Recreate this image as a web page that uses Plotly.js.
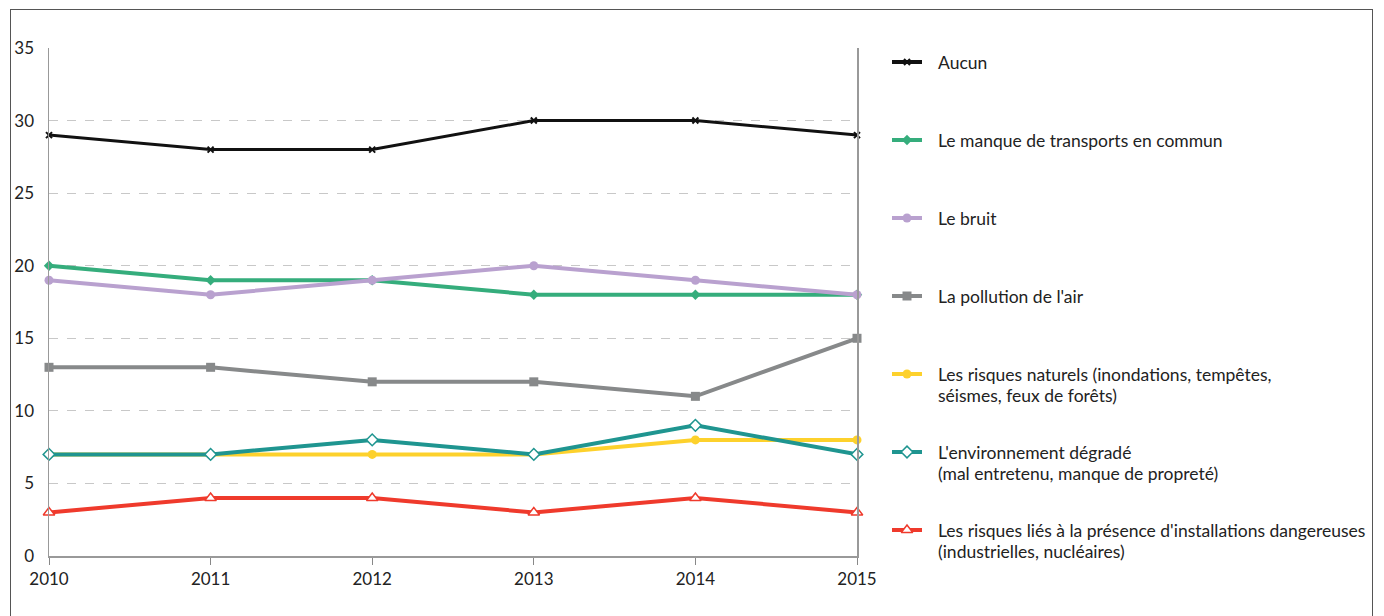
<!DOCTYPE html>
<html>
<head>
<meta charset="utf-8">
<script src="https://cdn.plot.ly/plotly-3.0.1.min.js"></script>
<style>
html,body{margin:0;padding:0;background:#fff;}
#frame{position:absolute;left:10px;top:9px;width:1361px;height:640px;border:1px solid #555;}
#chart{position:absolute;left:0;top:0;width:1384px;height:616px;}
</style>
</head>
<body>
<div id="frame"></div>
<div id="chart"></div>
<script>
const years = [2010, 2011, 2012, 2013, 2014, 2015];
const seriesNames = [
  "Aucun",
  "Le manque de transports en commun",
  "Le bruit",
  "La pollution de l'air",
  "Les risques naturels (inondations, tempêtes,<br>séismes, feux de forêts)",
  "L'environnement dégradé<br>(mal entretenu, manque de propreté)",
  "Les risques liés à la présence d'installations dangereuses<br>(industrielles, nucléaires)"
];
const aucun = [29, 28, 28, 30, 30, 29];
const transports = [20, 19, 19, 18, 18, 18];
const bruit = [19, 18, 19, 20, 19, 18];
const pollution = [13, 13, 12, 12, 11, 15];
const naturels = [7, 7, 7, 7, 8, 8];
const environnement = [7, 7, 8, 7, 9, 7];
const industriels = [3, 4, 4, 3, 4, 3];
const yTicks = [0, 5, 10, 15, 20, 25, 30, 35];

const W = 1384, H = 616;
const plotBox = {left: 49, right: 857, top: 48, bottom: 556};
const legendBox = {keyX0: 892, keyX1: 922, textX: 936, firstY: 62, rowStep: 78, lineStep: 21};

const styles = [
  {color: "#111111", width: 3, symbol: "x-thin-open", size: 6, fill: "#111111", lw: 2},
  {color: "#35ad7c", width: 4, symbol: "diamond", size: 8, fill: "#35ad7c", lw: 0},
  {color: "#b9a1cf", width: 4, symbol: "circle", size: 9, fill: "#b9a1cf", lw: 0},
  {color: "#87898a", width: 4, symbol: "square", size: 9, fill: "#87898a", lw: 0},
  {color: "#fdd12c", width: 4, symbol: "circle", size: 9, fill: "#fdd12c", lw: 0},
  {color: "#1f9590", width: 4, symbol: "diamond", size: 9, fill: "#ffffff", lw: 1.5},
  {color: "#ef3a2c", width: 4, symbol: "triangle-up", size: 10, fill: "#ffffff", lw: 1.5}
];
const values = [aucun, transports, bruit, pollution, naturels, environnement, industriels];

const markerOf = s => ({symbol: s.symbol, size: s.size, color: s.fill, line: {color: s.color, width: s.lw}});

const traces = values.map((v, i) => ({
  x: years, y: v, name: seriesNames[i].replace("<br>", " "),
  type: "scatter", mode: "lines+markers", cliponaxis: false,
  xaxis: "x", yaxis: "y",
  line: {color: styles[i].color, width: styles[i].width},
  marker: markerOf(styles[i])
}));

// legend keys drawn on an overlay pixel-space axis
const annotations = [];
values.forEach((v, i) => {
  const y = legendBox.firstY + legendBox.rowStep * i;
  traces.push({
    x: [legendBox.keyX0, legendBox.keyX1], y: [y, y],
    type: "scatter", mode: "lines", xaxis: "x2", yaxis: "y2", hoverinfo: "skip",
    line: {color: styles[i].color, width: 4}
  });
  traces.push({
    x: [(legendBox.keyX0 + legendBox.keyX1) / 2], y: [y],
    type: "scatter", mode: "markers", xaxis: "x2", yaxis: "y2", hoverinfo: "skip",
    marker: markerOf(styles[i])
  });
  seriesNames[i].split("<br>").forEach((line, j) => {
    annotations.push({
      xref: "x2", yref: "y2", x: legendBox.textX, y: y + legendBox.lineStep * j,
      xanchor: "left", yanchor: "middle", showarrow: false, text: line,
      font: {family: "Lato, sans-serif", size: 17.5, color: "#222"}
    });
  });
});

const layout = {
  width: W, height: H,
  margin: {l: 0, r: 0, t: 0, b: 0},
  paper_bgcolor: "rgba(0,0,0,0)",
  plot_bgcolor: "rgba(0,0,0,0)",
  font: {family: "Lato, sans-serif", size: 17, color: "#222"},
  showlegend: false,
  annotations: annotations,
  xaxis: {
    domain: [plotBox.left / W, plotBox.right / W],
    anchor: "y",
    range: [2010, 2015],
    tickvals: years,
    ticktext: years.map(String),
    ticks: "outside", ticklen: 7, tickcolor: "#888",
    showline: true, linecolor: "#999", linewidth: 1.5,
    showgrid: false, zeroline: false,
    tickfont: {size: 17, color: "#222"}
  },
  yaxis: {
    domain: [(H - plotBox.bottom) / H, (H - plotBox.top) / H],
    anchor: "x",
    range: [0, 35],
    tickvals: yTicks,
    ticks: "",
    showline: true, mirror: true, linecolor: "#999", linewidth: 1.5,
    showgrid: true, gridcolor: "#c8c8c8", griddash: "dash", gridwidth: 1,
    zeroline: false,
    ticklabelstandoff: 10,
    tickfont: {size: 17, color: "#222"}
  },
  xaxis2: {domain: [0, 1], anchor: "y2", range: [0, W], visible: false, fixedrange: true},
  yaxis2: {domain: [0, 1], anchor: "x2", range: [H, 0], visible: false, fixedrange: true}
};

Plotly.newPlot("chart", traces, layout, {displayModeBar: false, staticPlot: true});
</script>
</body>
</html>
